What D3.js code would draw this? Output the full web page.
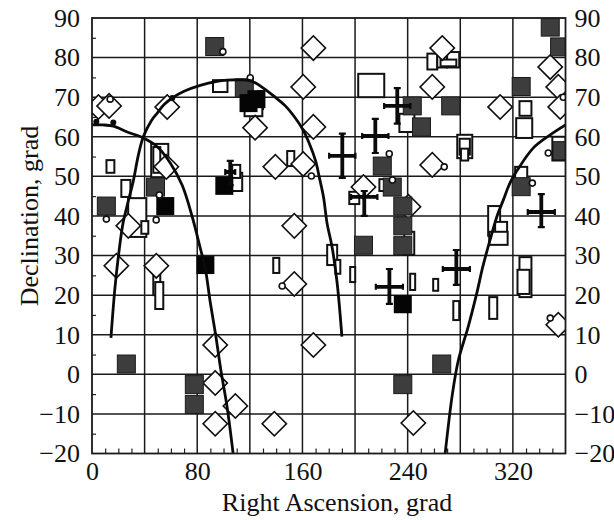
<!DOCTYPE html>
<html>
<head>
<meta charset="utf-8">
<script src="https://cdn.jsdelivr.net/npm/d3@7"></script>
<style>
  body { margin: 0; background: #fff; }
  svg text { font-family: "Liberation Serif", "Times New Roman", serif; fill: #111; }
</style>
</head>
<body>
<div id="chart-area"></div>
<script>
// axis ticks and grid
var raLabels = [0, 80, 160, 240, 320];
var decLabels = [-20, -10, 0, 10, 20, 30, 40, 50, 60, 70, 80, 90];
var raGrid = [40, 80, 120, 160, 200, 240, 280, 320];
var decGrid = [-10, 0, 10, 20, 30, 40, 50, 60, 70, 80];
var raMinor = [10, 20, 30, 50, 60, 70, 90, 100, 110, 130, 140, 150, 170, 180, 190, 210, 220, 230, 250, 260, 270, 290, 300, 310, 330, 340, 350];
var decMinor = [-15, -5, 5, 15, 25, 35, 45, 55, 65, 75, 85];

// dark grey squares [ra, dec]
var darkSquares = [
  [10.9, 42.5], [26.1, 2.6], [93.3, 82.8], [48.3, 47.3], [77.8, -2.6], [77.8, -7.6],
  [115.8, 72.3], [243.5, 67.8], [250.5, 62.5], [272.7, 67.8], [220.7, 52.6], [228.3, 47.3],
  [236.3, 42.5], [236.3, 37.5], [236.3, 32.5], [206.4, 32.6], [236.3, -2.6], [265.9, 2.6],
  [326.3, 72.7], [348.4, 87.7], [355.5, 82.7], [326.3, 47.4], [357.5, 56.5]
];

// black squares [ra, dec]
var blackSquares = [
  [55.7, 42.5], [86.2, 27.6], [100.6, 47.6], [236.3, 17.7], [119, 68.5], [125, 69.5]
];

// open diamonds [ra, dec]
var diamonds = [
  [4.9, 67.5], [13, 67.8], [57.2, 67.5], [27.6, 37.5], [124, 62.3], [168.3, 82.4],
  [160.6, 72.6], [168.3, 62.5], [139.4, 52.4], [160.6, 53.1], [153.8, 37.5], [56.5, 52.4],
  [18.5, 27.4], [48.9, 27.4], [93.7, 7.4], [93.7, -2.2], [109, -8], [93.7, -12.5],
  [138.6, -12.5], [153.8, 22.8], [168.3, 7.4], [266.3, 82.4], [258.7, 72.6], [310.3, 67.5],
  [348.4, 77.6], [354.5, 72.6], [356, 67.5], [258.7, 52.9], [206.4, 47.3], [240.6, 42.3],
  [244.3, -12.3], [354.5, 12.5]
];

// error boxes [ra0, ra1, dec0, dec1]
var boxes = [
  [92, 103, 71.3, 74.3], [202.4, 222.2, 70, 75.9], [11, 17, 50.9, 54.1], [22.3, 29.2, 44.8, 49.1],
  [27.5, 41.3, 34.7, 44.5], [37.5, 42.8, 35.5, 38.7], [45, 58, 49.8, 58.2], [46.6, 51.9, 50.9, 57.4],
  [46.6, 51.9, 20, 26.4], [48.1, 54.2, 16.5, 23.3], [137.8, 142.4, 25.6, 29.4], [148.4, 153.8, 52.6, 56.4],
  [117.5, 121.5, 66, 70.5], [122, 126, 66.5, 71], [126.5, 130, 67, 71.5], [116, 129.5, 65.2, 67.6],
  [105, 114.2, 46.3, 50.9], [106.6, 112.7, 49.6, 52.9], [233.7, 245.1, 61.2, 65.8], [218.5, 223.1, 46.3, 49.3],
  [195.6, 203.2, 43, 46.1], [277.7, 289.1, 54.6, 60.5], [279.5, 287.3, 55.5, 59.5], [280.5, 286, 54, 57],
  [255, 262.5, 77, 81], [262.5, 270, 77.5, 81.4], [270, 279.2, 77.5, 81.4], [265, 277, 77.8, 79.5],
  [325, 334.1, 65.3, 69], [322.5, 334.7, 59.7, 64.7], [350, 360, 54, 60], [321.7, 330.9, 48.8, 52.4],
  [301.2, 310.3, 35, 42.5], [306.5, 315.6, 34.4, 38.5], [302, 316, 32.7, 36], [325, 334.1, 19.5, 29.6],
  [323.5, 332.7, 20.3, 26.4], [274.7, 279.2, 13.7, 18.5], [302, 308.1, 14, 19.5], [178.8, 186.4, 27.6, 32.7],
  [185, 188.8, 25.4, 28.9], [196.3, 200.1, 23.3, 27.1], [241.9, 245.7, 21.3, 25.4], [259.4, 263.2, 21.1, 24.1],
  [237.4, 245, 30.2, 36]
];

// crosses [ra, dec, raErr, decErrMinus, decErrPlus]
var crosses = [
  [215.4, 60.2, 10, 4.3, 4.3], [190.3, 55.2, 10, 5.6, 5.6], [232.1, 67.8, 10, 4.5, 4.5],
  [207, 44.8, 10, 4.8, 1.5], [341.6, 41, 10.3, 3.8, 4.5], [277, 26.6, 10.3, 4, 4.8],
  [226.1, 22.1, 10.3, 4.3, 4.5], [105.1, 51.1, 3.8, 3.3, 2.8]
];

// small open circles [ra, dec]
var circles = [
  [99.5, 81.5], [120.3, 74.9], [10.9, 39.2], [48.8, 39], [51.2, 45.3], [166.8, 50.1],
  [226, 55.7], [267.8, 52.4], [334.8, 48.3], [346.9, 55.9], [228.4, 49.1], [358.3, 70],
  [348.4, 14.2], [144.6, 22.3], [13.8, 69.5]
];

// small filled dots on curves
var dots = [[61, 69.8], [3.3, 63.8], [16.2, 63.6]];

// curves [ra, dec]
var curveArch = [
  [14.4, 9.2], [17.5, 22], [20.5, 31], [23.5, 38], [27, 43], [31.5, 49], [35, 55], [39, 60],
  [45, 64], [49.6, 66], [55, 68.2], [61, 69.8], [70, 71.5], [82.3, 73], [95, 74], [102.6, 74.3],
  [112, 74.4], [120.3, 74.2], [130.3, 72.3], [140, 69.8], [147, 67.8], [154, 65], [160, 62],
  [165, 58.5], [170, 53.9], [173, 49.5], [176, 44.8], [178.8, 38], [182.5, 32.2], [186.4, 23], [190, 9.5]
];
var curveLeft = [
  [0, 63], [8, 63], [16.3, 62.7], [26.8, 61.2], [39.1, 59.7], [49.6, 57.5], [59.5, 53.4],
  [68.5, 47.8], [76.2, 39.8], [82.3, 31.9], [86, 27], [90, 18], [94, 10], [98, 1], [102.6, -8], [107.3, -20]
];
var curveRight = [
  [268.5, -20], [274, -5], [278.5, 3.5], [286, 12], [292.7, 20.7], [297, 27], [302.7, 34],
  [308, 40], [312.7, 44], [318, 48.5], [323.4, 51.6], [335.6, 57.2], [348.4, 60.5], [360, 63]
];

var W = 614, H = 520;
var svg = d3.select("#chart-area").append("svg")
    .attr("width", W)
    .attr("height", H);

var x = d3.scaleLinear().domain([0, 360]).range([92, 565.5]);
var y = d3.scaleLinear().domain([-20, 90]).range([453.5, 18]);

svg.append("defs").append("clipPath")
    .attr("id", "plot-clip")
  .append("rect")
    .attr("x", x(0)).attr("y", y(90))
    .attr("width", x(360) - x(0)).attr("height", y(-20) - y(90));

// grid
svg.append("g").selectAll("line.vg").data(raGrid).enter().append("line")
    .attr("x1", function (d) { return x(d); }).attr("x2", function (d) { return x(d); })
    .attr("y1", y(90)).attr("y2", y(-20))
    .attr("stroke", "#1a1a1a").attr("stroke-width", 1.5);
svg.append("g").selectAll("line.hg").data(decGrid).enter().append("line")
    .attr("y1", function (d) { return y(d); }).attr("y2", function (d) { return y(d); })
    .attr("x1", x(0)).attr("x2", x(360))
    .attr("stroke", "#1a1a1a").attr("stroke-width", 1.5);

// minor ticks
svg.append("g").attr("transform", "translate(0," + y(-20) + ")")
    .call(d3.axisBottom(x).tickValues(raMinor).tickSize(-5).tickFormat(""))
    .call(function (g) { g.select(".domain").remove(); })
    .selectAll("line").attr("stroke", "#222").attr("stroke-width", 1.2);
svg.append("g").attr("transform", "translate(" + x(0) + ",0)")
    .call(d3.axisLeft(y).tickValues(decMinor).tickSize(-4).tickFormat(""))
    .call(function (g) { g.select(".domain").remove(); })
    .selectAll("line").attr("stroke", "#222").attr("stroke-width", 1.2);

var plot = svg.append("g").attr("clip-path", "url(#plot-clip)");

// error boxes
plot.append("g").selectAll("rect").data(boxes).enter().append("rect")
    .attr("x", function (d) { return x(d[0]); })
    .attr("y", function (d) { return y(d[3]); })
    .attr("width", function (d) { return x(d[1]) - x(d[0]); })
    .attr("height", function (d) { return y(d[2]) - y(d[3]); })
    .attr("fill", "#fff").attr("stroke", "#111").attr("stroke-width", 2);

// diamonds
var diamondPath = d3.symbol().type(d3.symbolSquare).size(2 * 8.6 * 8.6 * 2);
plot.append("g").selectAll("path").data(diamonds).enter().append("path")
    .attr("d", diamondPath)
    .attr("transform", function (d) { return "translate(" + x(d[0]) + "," + y(d[1]) + ") rotate(45)"; })
    .attr("fill", "#fff").attr("stroke", "#111").attr("stroke-width", 1.6);

// squares
plot.append("g").selectAll("rect").data(darkSquares).enter().append("rect")
    .attr("x", function (d) { return x(d[0]) - 9; })
    .attr("y", function (d) { return y(d[1]) - 9; })
    .attr("width", 18).attr("height", 18)
    .attr("fill", "#3d3d3d").attr("stroke", "#1a1a1a").attr("stroke-width", 1);
plot.append("g").selectAll("rect").data(blackSquares).enter().append("rect")
    .attr("x", function (d) { return x(d[0]) - 9; })
    .attr("y", function (d) { return y(d[1]) - 9; })
    .attr("width", 18).attr("height", 18)
    .attr("fill", "#050505");

// crosses with error bars
var cg = plot.append("g").attr("stroke", "#0a0a0a").attr("stroke-width", 3.8);
crosses.forEach(function (d) {
    var cx = x(d[0]), cy = y(d[1]);
    var xl = x(d[0] - d[2]), xr = x(d[0] + d[2]);
    var yt = y(d[1] + d[4]), yb = y(d[1] - d[3]);
    cg.append("line").attr("x1", xl).attr("x2", xr).attr("y1", cy).attr("y2", cy);
    cg.append("line").attr("x1", cx).attr("x2", cx).attr("y1", yt).attr("y2", yb);
    cg.append("line").attr("x1", xl).attr("x2", xl).attr("y1", cy - 3).attr("y2", cy + 3).attr("stroke-width", 2.2);
    cg.append("line").attr("x1", xr).attr("x2", xr).attr("y1", cy - 3).attr("y2", cy + 3).attr("stroke-width", 2.2);
    cg.append("line").attr("x1", cx - 3.5).attr("x2", cx + 3.5).attr("y1", yt).attr("y2", yt).attr("stroke-width", 2.2);
    cg.append("line").attr("x1", cx - 3.5).attr("x2", cx + 3.5).attr("y1", yb).attr("y2", yb).attr("stroke-width", 2.2);
});

// small circles
plot.append("g").selectAll("circle").data(circles).enter().append("circle")
    .attr("cx", function (d) { return x(d[0]); })
    .attr("cy", function (d) { return y(d[1]); })
    .attr("r", 3)
    .attr("fill", "#fff").attr("stroke", "#111").attr("stroke-width", 1.6);

// curves
var lineGenerator = d3.line()
    .x(function (d) { return x(d[0]); })
    .y(function (d) { return y(d[1]); })
    .curve(d3.curveCatmullRom);
[curveArch, curveLeft, curveRight].forEach(function (c) {
    plot.append("path")
        .attr("d", lineGenerator(c))
        .attr("fill", "none")
        .attr("stroke", "#0a0a0a")
        .attr("stroke-width", 2.8);
});
plot.append("g").selectAll("circle").data(dots).enter().append("circle")
    .attr("cx", function (d) { return x(d[0]); })
    .attr("cy", function (d) { return y(d[1]); })
    .attr("r", 3).attr("fill", "#0a0a0a");

// frame
svg.append("rect")
    .attr("x", x(0)).attr("y", y(90))
    .attr("width", x(360) - x(0)).attr("height", y(-20) - y(90))
    .attr("fill", "none").attr("stroke", "#1a1a1a").attr("stroke-width", 1.8);

// tick labels
function styleAxis(g) {
    g.select(".domain").remove();
    g.selectAll("text").style("font-size", "26px").attr("fill", "#111");
}
svg.append("g").attr("transform", "translate(0," + y(-20) + ")")
    .call(d3.axisBottom(x).tickValues(raLabels).tickSize(0).tickPadding(8))
    .call(styleAxis);
svg.append("g").attr("transform", "translate(" + x(0) + ",0)")
    .call(d3.axisLeft(y).tickValues(decLabels).tickSize(0).tickPadding(12))
    .call(styleAxis);
svg.append("g").attr("transform", "translate(" + x(360) + ",0)")
    .call(d3.axisRight(y).tickValues(decLabels).tickSize(0).tickPadding(9))
    .call(styleAxis);

// axis titles
svg.append("text")
    .attr("x", 337).attr("y", 511)
    .attr("text-anchor", "middle")
    .style("font-size", "26px")
    .text("Right Ascension, grad");
svg.append("text")
    .attr("transform", "translate(38,216) rotate(-90)")
    .attr("text-anchor", "middle")
    .style("font-size", "26px")
    .text("Declination, grad");
</script>
</body>
</html>
